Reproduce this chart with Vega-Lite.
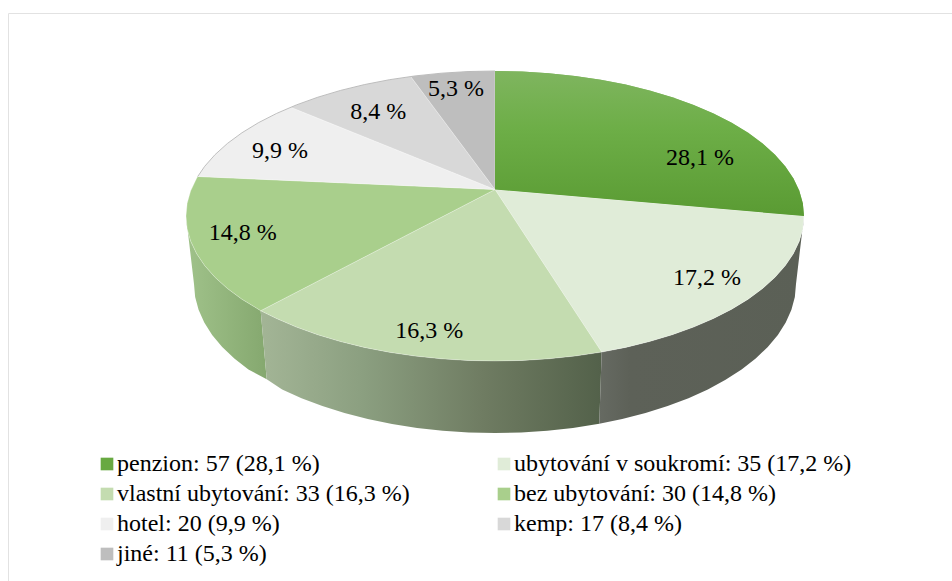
{"$schema":"https://vega.github.io/schema/vega-lite/v6.json","width":944,"height":568,"padding":{"left":8,"top":13,"right":0,"bottom":0},"autosize":{"type":"none"},"background":"white","view":{"stroke":"#e2e2e2","strokeWidth":1},"projection":{"type":"identity","reflectY":true,"scale":309,"translate":[487,203]},"datasets":{"slices":[
{"type":"Feature","properties":{"name":"penzion","value":57,"pct":"28,1 %","legend":"penzion: 57 (28,1 %)","labelX":0.6634,"labelY":0.1877},"geometry":{"type":"Polygon","coordinates":[[[0,0.0858],[0,0.4693],[0.0872,0.4675],[0.1736,0.4622],[0.2588,0.4533],[0.342,0.441],[0.4226,0.4253],[0.5,0.4064],[0.5736,0.3844],[0.6428,0.3595],[0.7071,0.3318],[0.766,0.3017],[0.8192,0.2692],[0.866,0.2347],[0.9063,0.1983],[0.9397,0.1605],[0.9659,0.1215],[0.9848,0.0815],[0.9962,0.0409],[1,0],[0,0.0858]]]}},
{"type":"Feature","properties":{"name":"ubytování v soukromí","value":35,"pct":"17,2 %","legend":"ubytování v soukromí: 35 (17,2 %)","labelX":0.6861,"labelY":-0.2006},"geometry":{"type":"Polygon","coordinates":[[[0,0.0858],[1,0],[0.9962,-0.0409],[0.9848,-0.0815],[0.9659,-0.1215],[0.9397,-0.1605],[0.9063,-0.1983],[0.866,-0.2347],[0.8192,-0.2692],[0.766,-0.3017],[0.7071,-0.3318],[0.6428,-0.3595],[0.5736,-0.3844],[0.5,-0.4064],[0.4226,-0.4253],[0.3453,-0.4405],[0,0.0858]]]}},
{"type":"Feature","properties":{"name":"vlastní ubytování","value":33,"pct":"16,3 %","legend":"vlastní ubytování: 33 (16,3 %)","labelX":-0.2126,"labelY":-0.3722},"geometry":{"type":"Polygon","coordinates":[[[0,0.0858],[0.3453,-0.4405],[0.2588,-0.4533],[0.1736,-0.4622],[0.0872,-0.4675],[0,-0.4693],[-0.0872,-0.4675],[-0.1736,-0.4622],[-0.2588,-0.4533],[-0.342,-0.441],[-0.4226,-0.4253],[-0.5,-0.4064],[-0.5736,-0.3844],[-0.6428,-0.3595],[-0.7071,-0.3318],[-0.7583,-0.3065],[0,0.0858]]]}},
{"type":"Feature","properties":{"name":"bez ubytování","value":30,"pct":"14,8 %","legend":"bez ubytování: 30 (14,8 %)","labelX":-0.8165,"labelY":-0.056},"geometry":{"type":"Polygon","coordinates":[[[0,0.0858],[-0.7583,-0.3065],[-0.8192,-0.2692],[-0.866,-0.2347],[-0.9063,-0.1983],[-0.9397,-0.1605],[-0.9659,-0.1215],[-0.9848,-0.0815],[-0.9962,-0.0409],[-1,0],[-0.9962,0.0409],[-0.9848,0.0815],[-0.9659,0.1215],[-0.9621,0.1278],[0,0.0858]]]}},
{"type":"Feature","properties":{"name":"hotel","value":20,"pct":"9,9 %","legend":"hotel: 20 (9,9 %)","labelX":-0.6958,"labelY":0.2113},"geometry":{"type":"Polygon","coordinates":[[[0,0.0858],[-0.9621,0.1278],[-0.9397,0.1605],[-0.9063,0.1983],[-0.866,0.2347],[-0.8192,0.2692],[-0.766,0.3017],[-0.7071,0.3318],[-0.6612,0.3519],[0,0.0858]]]}},
{"type":"Feature","properties":{"name":"kemp","value":17,"pct":"8,4 %","legend":"kemp: 17 (8,4 %)","labelX":-0.3777,"labelY":0.3375},"geometry":{"type":"Polygon","coordinates":[[[0,0.0858],[-0.6612,0.3519],[-0.6428,0.3595],[-0.5736,0.3844],[-0.5,0.4064],[-0.4226,0.4253],[-0.342,0.441],[-0.2728,0.4515],[0,0.0858]]]}},
{"type":"Feature","properties":{"name":"jiné","value":11,"pct":"5,3 %","legend":"jiné: 11 (5,3 %)","labelX":-0.1262,"labelY":0.41},"geometry":{"type":"Polygon","coordinates":[[[0,0.0858],[-0.2728,0.4515],[-0.2588,0.4533],[-0.1736,0.4622],[-0.0872,0.4675],[0,0.4693],[0,0.0858]]]}}
],"walls":[
{"type":"Feature","properties":{"slice":"bez ubytování"},"geometry":{"type":"Polygon","coordinates":[[[-1,0],[-0.9962,-0.0409],[-0.9848,-0.0815],[-0.9659,-0.1215],[-0.9397,-0.1605],[-0.9063,-0.1983],[-0.866,-0.2347],[-0.8192,-0.2692],[-0.7583,-0.3065],[-0.7388,-0.5285],[-0.798,-0.4967],[-0.8436,-0.4612],[-0.8828,-0.4239],[-0.9154,-0.385],[-0.9409,-0.3449],[-0.9593,-0.3038],[-0.9704,-0.2621],[-0.9741,-0.2201],[-1,0]]]}},
{"type":"Feature","properties":{"slice":"vlastní ubytování"},"geometry":{"type":"Polygon","coordinates":[[[-0.7583,-0.3065],[-0.7071,-0.3318],[-0.6428,-0.3595],[-0.5736,-0.3844],[-0.5,-0.4064],[-0.4226,-0.4253],[-0.342,-0.441],[-0.2588,-0.4533],[-0.1736,-0.4622],[-0.0872,-0.4675],[0,-0.4693],[0.0872,-0.4675],[0.1736,-0.4622],[0.2588,-0.4533],[0.3453,-0.4405],[0.3375,-0.672],[0.2521,-0.6859],[0.1691,-0.695],[0.0849,-0.7005],[0,-0.7023],[-0.0849,-0.7005],[-0.1691,-0.695],[-0.2521,-0.6859],[-0.3332,-0.6732],[-0.4117,-0.6571],[-0.4871,-0.6377],[-0.5587,-0.6151],[-0.6262,-0.5895],[-0.6888,-0.5611],[-0.7388,-0.5285],[-0.7583,-0.3065]]]}},
{"type":"Feature","properties":{"slice":"ubytování v soukromí"},"geometry":{"type":"Polygon","coordinates":[[[0.3453,-0.4405],[0.4226,-0.4253],[0.5,-0.4064],[0.5736,-0.3844],[0.6428,-0.3595],[0.7071,-0.3318],[0.766,-0.3017],[0.8192,-0.2692],[0.866,-0.2347],[0.9063,-0.1983],[0.9397,-0.1605],[0.9659,-0.1215],[0.9848,-0.0815],[0.9962,-0.0409],[1,0],[0.9741,-0.2201],[0.9704,-0.2621],[0.9593,-0.3038],[0.9409,-0.3449],[0.9154,-0.385],[0.8828,-0.4239],[0.8436,-0.4612],[0.798,-0.4967],[0.7462,-0.5301],[0.6888,-0.5611],[0.6262,-0.5895],[0.5587,-0.6151],[0.4871,-0.6377],[0.4117,-0.6571],[0.3375,-0.672],[0.3453,-0.4405]]]}}
],"rim":[
{"type":"Feature","properties":{"part":"rim"},"geometry":{"type":"LineString","coordinates":[[-0.9621,0.1278],[-0.9397,0.1605],[-0.9063,0.1983],[-0.866,0.2347],[-0.8192,0.2692],[-0.766,0.3017],[-0.7071,0.3318],[-0.6428,0.3595],[-0.5736,0.3844],[-0.5,0.4064],[-0.4226,0.4253],[-0.342,0.441],[-0.2588,0.4533],[-0.1736,0.4622],[-0.0872,0.4675],[0,0.4693]]}}
]},
"layer":[
{"data":{"name":"walls"},"transform":[{"filter":"datum.properties.slice === 'bez ubytování'"}],"mark":{"type":"geoshape","stroke":null,"fill":{"gradient":"linear","x1":0,"y1":0,"x2":1,"y2":0,"stops":[{"offset":0,"color":"#a0c28a"},{"offset":1,"color":"#85a86f"}]}}},
{"data":{"name":"walls"},"transform":[{"filter":"datum.properties.slice === 'vlastní ubytování'"}],"mark":{"type":"geoshape","stroke":null,"fill":{"gradient":"linear","x1":0,"y1":0,"x2":1,"y2":0,"stops":[{"offset":0,"color":"#a3b596"},{"offset":0.3,"color":"#8b9f80"},{"offset":0.65,"color":"#6f7c62"},{"offset":1,"color":"#53614a"}]}}},
{"data":{"name":"walls"},"transform":[{"filter":"datum.properties.slice === 'ubytování v soukromí'"}],"mark":{"type":"geoshape","stroke":null,"fill":{"gradient":"linear","x1":0,"y1":0,"x2":1,"y2":0,"stops":[{"offset":0,"color":"#666a62"},{"offset":0.15,"color":"#5d6158"},{"offset":1,"color":"#5b6056"}]}}},
{"data":{"name":"slices"},"mark":{"type":"geoshape","stroke":"#ffffff","strokeOpacity":0.35,"strokeWidth":0.8},"encoding":{"color":{"field":"properties.legend","type":"nominal","scale":{"domain":["penzion: 57 (28,1 %)","ubytování v soukromí: 35 (17,2 %)","vlastní ubytování: 33 (16,3 %)","bez ubytování: 30 (14,8 %)","hotel: 20 (9,9 %)","kemp: 17 (8,4 %)","jiné: 11 (5,3 %)"],"range":["#68a941","#e0ecd8","#c4dcb0","#a9cf8c","#efefef","#d8d8d8","#bebebe"]},"legend":{"title":null,"orient":"none","legendX":87,"legendY":439,"direction":"horizontal","columns":2,"symbolType":"square","symbolSize":160,"symbolStrokeWidth":0,"labelFont":"Liberation Serif","labelFontSize":24,"labelColor":"#000000","labelOffset":-2,"rowPadding":6,"columnPadding":82,"labelLimit":500,"padding":0}}}},
{"data":{"name":"slices"},"transform":[{"filter":"datum.properties.name === 'penzion'"}],"mark":{"type":"geoshape","stroke":null,"fill":{"gradient":"linear","x1":0,"y1":0,"x2":0,"y2":1,"stops":[{"offset":0,"color":"#7fb55f"},{"offset":0.4,"color":"#6dae47"},{"offset":1,"color":"#5a9b33"}]}}},
{"data":{"name":"rim"},"mark":{"type":"geoshape","filled":false,"stroke":"#b0b0b0","strokeWidth":0.8}},
{"data":{"name":"slices"},"mark":{"type":"text","font":"Liberation Serif","fontSize":24,"color":"#000000","align":"center","baseline":"middle"},"encoding":{"longitude":{"field":"properties.labelX","type":"quantitative"},"latitude":{"field":"properties.labelY","type":"quantitative"},"text":{"field":"properties.pct","type":"nominal"}}}
]}
